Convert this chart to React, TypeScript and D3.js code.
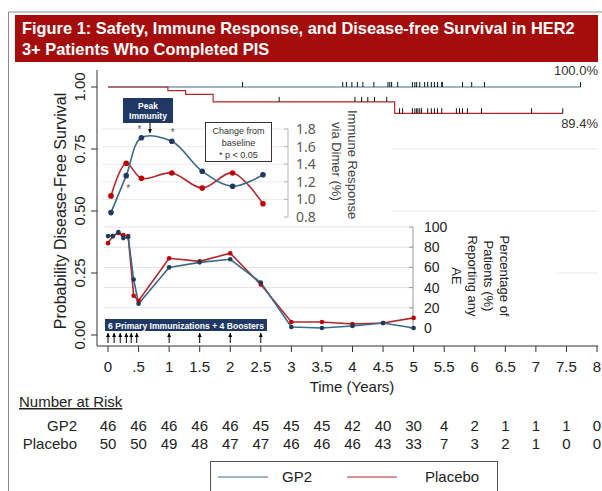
import * as d3 from 'd3';

// Kaplan-Meier (disease-free survival)
const kmGP2 = [
  { t: 0, s: 1 },
  { t: 7.73, s: 1 },
];
const kmPlacebo = [
  { t: 0, s: 1 },
  { t: 0.98, s: 0.985 },
  { t: 1.27, s: 0.97 },
  { t: 1.72, s: 0.94 },
  { t: 4.69, s: 0.894 },
  { t: 7.44, s: 0.894 },
];
const censorGP2 = [2.2, 3.84, 3.9, 3.99, 4.08, 4.17, 4.35, 4.58, 4.61, 4.64, 4.74, 4.98, 5.02, 5.05, 5.1, 5.18, 5.23, 5.29, 5.34, 5.39, 5.46, 5.47, 5.8, 5.95, 6.16, 7.73];
const censorPlacebo = [2.8, 4.04, 4.15, 4.25, 4.36, 4.56, 4.77, 4.82, 4.98, 5.02, 5.05, 5.07, 5.1, 5.13, 5.23, 5.29, 5.34, 5.39, 5.46, 5.7, 5.75, 5.8, 5.88, 6.11, 6.93, 7.44];

// immune response inset
const immTimes = [0, 0.25, 0.5, 1, 1.5, 2, 2.5];
const immGP2 = [0.85, 1.27, 1.7, 1.66, 1.32, 1.15, 1.28];
const immPlacebo = [1.04, 1.41, 1.24, 1.3, 1.13, 1.3, 0.95];
const immSig = [0.25, 0.5, 1];
const immTicks = [0.8, 1.0, 1.2, 1.4, 1.6, 1.8];

// adverse events inset
const aeTimes = [0, 0.08, 0.17, 0.25, 0.33, 0.42, 0.5, 1, 1.5, 2, 2.5, 3, 3.5, 4, 4.5, 5];
const aeGP2 = [91, 91, 95, 89, 90, 48, 24, 60, 65, 68, 45, 1, 0, 2, 5, 0];
const aePlacebo = [84, 91, 94, 92, 91, 32, 27, 69, 66, 74, 43, 6, 6, 4, 5, 10];
const aeTicks = [0, 20, 40, 60, 80, 100];
const immunizations = [0, 0.1, 0.2, 0.3, 0.38, 0.47, 1, 1.5, 2, 2.5];

// axis + risk table
const timeTicks = d3.range(0, 8.01, 0.5);
const timeLabels = ['0', '.5', '1', '1.5', '2', '2.5', '3', '3.5', '4', '4.5', '5', '5.5', '6', '6.5', '7', '7.5', '8'];
const survTicks = [0, 0.25, 0.5, 0.75, 1];
const riskGP2 = [46, 46, 46, 46, 46, 45, 45, 45, 42, 40, 30, 4, 2, 1, 1, 1, 0];
const riskPlacebo = [50, 50, 49, 48, 47, 47, 46, 46, 46, 43, 33, 7, 3, 2, 1, 0, 0];

const BLUE = '#3b6a88';
const BLUE_DOT = '#1f3a5f';
const RED = '#b0282e';
const RED_DOT = '#c00000';
const NAVY = '#1f3864';
const FONT = 'Liberation Sans, Arial, sans-serif';

const x = d3.scaleLinear().domain([0, 8]).range([108, 597]);
const y = d3.scaleLinear().domain([0, 1]).range([335, 87]);
const xImm = d3.scaleLinear().domain([0, 2.5]).range([111, 263]);
const yImm = d3.scaleLinear().domain([0.8, 1.8]).range([217, 129]);
const yAE = d3.scaleLinear().domain([0, 100]).range([328, 227]);

const stepLine = d3.line<{ t: number; s: number }>().x(d => x(d.t)).y(d => y(d.s)).curve(d3.curveStepAfter);
const immLine = d3.line<number>().x((_, i) => xImm(immTimes[i])).y(d => yImm(d)).curve(d3.curveCatmullRom.alpha(0.5));
const aeLine = d3.line<number>().x((_, i) => x(aeTimes[i])).y(d => yAE(d));

const survAt = (curve: { t: number; s: number }[], t: number) => {
  let s = 1;
  curve.forEach(p => { if (p.t <= t) s = p.s; });
  return s;
};

const Arrow = ({ x1, y1, y2 }: { x1: number; y1: number; y2: number }) => {
  const dir = y2 > y1 ? 1 : -1;
  return (
    <g>
      <line x1={x1} x2={x1} y1={y1} y2={y2} stroke="#000" strokeWidth={1} />
      <path d={`M${x1 - 2},${y2 - dir * 4}L${x1},${y2}L${x1 + 2},${y2 - dir * 4}Z`} fill="#000" />
    </g>
  );
};

export default function App() {
  return (
    <svg width={602} height={491} style={{ position: 'absolute', left: 0, top: 0, background: '#fff' }} fontFamily={FONT}>
      {/* frame + title */}
      <path d="M602,12H8.5V491" fill="none" stroke="#8a8a8a" strokeWidth={1} />
      <rect x={15} y={15} width={583} height={47} fill="#a50d0d" />
      <text x={22} y={34} fill="#fff" fontSize={16.4} fontWeight="bold">Figure 1: Safety, Immune Response, and Disease-free Survival in HER2</text>
      <text x={22} y={55} fill="#fff" fontSize={16.4} fontWeight="bold">3+ Patients Who Completed PIS</text>

      {/* KM gridlines */}
      {survTicks.slice(1, 4).map(v => (
        <line key={v} x1={97} x2={598} y1={y(v)} y2={y(v)} stroke="#ececec" />
      ))}

      {/* immune inset */}
      <rect x={100} y={95} width={292} height={127} fill="#fff" />
      {immTicks.slice(1).map(v => (
        <line key={v} x1={102} x2={288} y1={yImm(v)} y2={yImm(v)} stroke="#eaeaea" />
      ))}
      <line x1={288} x2={288} y1={yImm(1.8)} y2={yImm(0.8)} stroke="#b5b5b5" />
      {immTicks.map(v => (
        <g key={v}>
          <line x1={284} x2={288} y1={yImm(v)} y2={yImm(v)} stroke="#b5b5b5" />
          <text x={296} y={yImm(v) + 5} fontSize={14} fill="#595959" fontFamily="Noto Sans, sans-serif">{v.toFixed(1)}</text>
        </g>
      ))}
      <g transform="translate(348,110) rotate(90)" fontSize={13} fill="#404040">
        <text x={0} y={0}>Immune Response</text>
        <text x={12} y={16}>via Dimer (%)</text>
      </g>
      <path d={immLine(immPlacebo) ?? ''} fill="none" stroke={RED} strokeWidth={1.6} />
      <path d={immLine(immGP2) ?? ''} fill="none" stroke={BLUE} strokeWidth={1.6} />
      {immPlacebo.map((v, i) => <circle key={'ip' + i} cx={xImm(immTimes[i])} cy={yImm(v)} r={2.8} fill={RED_DOT} />)}
      {immGP2.map((v, i) => <circle key={'ig' + i} cx={xImm(immTimes[i])} cy={yImm(v)} r={2.8} fill={BLUE_DOT} />)}
      {immSig.map(t => {
        const v = immGP2[immTimes.indexOf(t)];
        const below = t === 0.25;
        return (
          <text key={t} x={xImm(t) + (below ? 2 : t === 0.5 ? -2 : 1)} y={yImm(v) + (below ? 16 : -5)} fontSize={10} fill="#555" textAnchor="middle">*</text>
        );
      })}
      <rect x={123} y={98} width={50} height={25} fill={NAVY} />
      <text x={148} y={109} fill="#fff" fontSize={8.5} fontWeight="bold" textAnchor="middle">Peak</text>
      <text x={148} y={119} fill="#fff" fontSize={8.5} fontWeight="bold" textAnchor="middle">Immunity</text>
      <Arrow x1={150} y1={123} y2={133} />
      <rect x={205.5} y={122.5} width={66} height={39} fill="#fff" stroke="#333" strokeWidth={1} />
      <g fontSize={9} fill="#333" textAnchor="middle">
        <text x={238.5} y={133.5}>Change from</text>
        <text x={238.5} y={145.5}>baseline</text>
        <text x={238.5} y={157.5}>* p &lt; 0.05</text>
      </g>

      {/* AE inset */}
      <rect x={100} y={222} width={457} height={120} fill="#fff" />
      {aeTicks.slice(1).map(v => (
        <line key={v} x1={104} x2={413} y1={yAE(v)} y2={yAE(v)} stroke="#e3e3e3" />
      ))}
      <line x1={413} x2={413} y1={yAE(100)} y2={yAE(0)} stroke="#9a9a9a" />
      {aeTicks.map(v => (
        <g key={v}>
          <line x1={409} x2={413} y1={yAE(v)} y2={yAE(v)} stroke="#9a9a9a" />
          <text x={424} y={yAE(v) + 5} fontSize={14} fill="#222">{v}</text>
        </g>
      ))}
      <g transform="translate(500,276) rotate(90)" fontSize={13} fill="#222" textAnchor="middle">
        <text x={0} y={0}>Percentage of</text>
        <text x={0} y={16}>Patients (%)</text>
        <text x={0} y={32}>Reporting any</text>
        <text x={0} y={48}>AE</text>
      </g>
      <path d={aeLine(aePlacebo) ?? ''} fill="none" stroke={RED} strokeWidth={1.6} />
      <path d={aeLine(aeGP2) ?? ''} fill="none" stroke={BLUE} strokeWidth={1.6} />
      {aePlacebo.map((v, i) => <circle key={'ap' + i} cx={x(aeTimes[i])} cy={yAE(v)} r={2.3} fill={RED_DOT} />)}
      {aeGP2.map((v, i) => <circle key={'ag' + i} cx={x(aeTimes[i])} cy={yAE(v)} r={2.3} fill={BLUE_DOT} />)}
      <rect x={105} y={319} width={162} height={12} fill={NAVY} />
      <text x={186} y={328.5} fill="#fff" fontSize={8.6} fontWeight="bold" textAnchor="middle">6 Primary Immunizations + 4 Boosters</text>
      {immunizations.map(t => <Arrow key={t} x1={x(t)} y1={343} y2={333} />)}

      {/* KM curves */}
      <path d={stepLine(kmGP2) ?? ''} fill="none" stroke={BLUE} strokeWidth={1.2} />
      <path d={stepLine(kmPlacebo) ?? ''} fill="none" stroke={RED} strokeWidth={1.2} />
      {censorGP2.map((t, i) => (
        <line key={'cg' + i} x1={x(t)} x2={x(t)} y1={y(survAt(kmGP2, t)) - 5} y2={y(survAt(kmGP2, t))} stroke="#111" strokeWidth={1} />
      ))}
      {censorPlacebo.map((t, i) => (
        <line key={'cp' + i} x1={x(t)} x2={x(t)} y1={y(survAt(kmPlacebo, t)) - 5} y2={y(survAt(kmPlacebo, t))} stroke="#111" strokeWidth={1} />
      ))}
      <text x={598} y={75} fontSize={13} fill="#333" textAnchor="end">100.0%</text>
      <text x={598} y={128} fontSize={13} fill="#333" textAnchor="end">89.4%</text>

      {/* axes */}
      <line x1={97} x2={97} y1={70} y2={346} stroke="#333" />
      <line x1={97} x2={598} y1={346} y2={346} stroke="#333" />
      {survTicks.map(v => (
        <g key={v}>
          <line x1={91} x2={97} y1={y(v)} y2={y(v)} stroke="#333" />
          <text transform={`translate(85,${y(v)}) rotate(-90)`} fontSize={15} fill="#222" textAnchor="middle">{v.toFixed(2)}</text>
        </g>
      ))}
      <text transform={`translate(66,${y(0.5)}) rotate(-90)`} fontSize={16} fill="#222" textAnchor="middle">Probability Disease-Free Survival</text>
      {timeTicks.map((t, i) => (
        <g key={t}>
          <line x1={x(t)} x2={x(t)} y1={346} y2={352} stroke="#333" />
          <text x={x(t)} y={372} fontSize={15} fill="#222" textAnchor="middle">{timeLabels[i]}</text>
        </g>
      ))}
      <text x={352} y={392} fontSize={15} fill="#222" textAnchor="middle">Time (Years)</text>

      {/* number at risk */}
      <text x={19} y={407} fontSize={15} fill="#222" textDecoration="underline">Number at Risk</text>
      <text x={77} y={431} fontSize={15} fill="#222" textAnchor="end">GP2</text>
      <text x={77} y={449} fontSize={15} fill="#222" textAnchor="end">Placebo</text>
      {timeTicks.map((t, i) => (
        <g key={'r' + t} fontSize={15} fill="#222" textAnchor="middle">
          <text x={x(t)} y={431}>{riskGP2[i]}</text>
          <text x={x(t)} y={449}>{riskPlacebo[i]}</text>
        </g>
      ))}

      {/* legend */}
      <rect x={210.5} y={461.5} width={287} height={40} fill="#fff" stroke="#555" />
      <line x1={218} x2={268} y1={477} y2={477} stroke={BLUE} strokeWidth={1.2} />
      <text x={282} y={482} fontSize={15} fill="#222">GP2</text>
      <line x1={347} x2={397} y1={477} y2={477} stroke={RED} strokeWidth={1.2} />
      <text x={425} y={482} fontSize={15} fill="#222">Placebo</text>
    </svg>
  );
}
